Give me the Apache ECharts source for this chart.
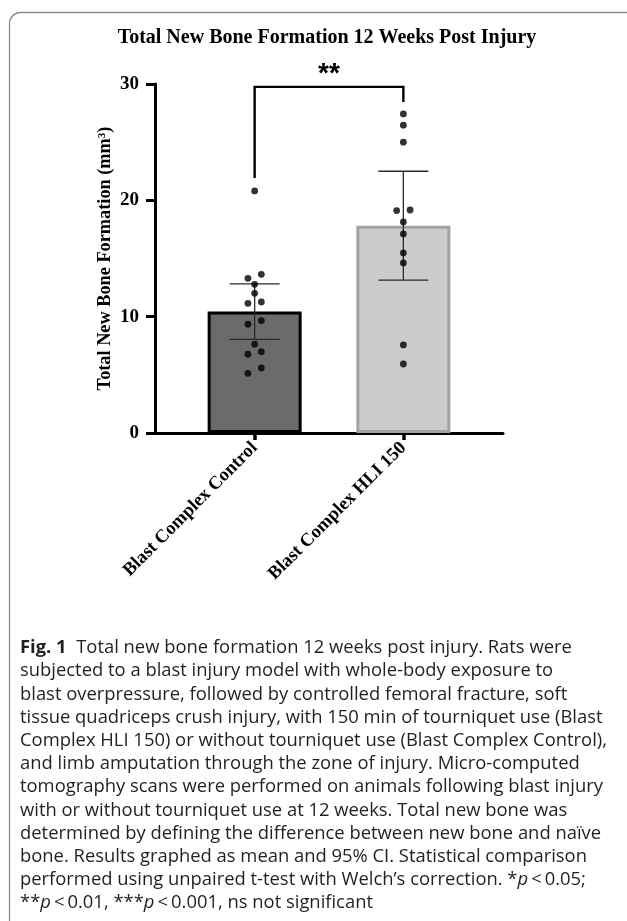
<!DOCTYPE html>
<html>
<head>
<meta charset="utf-8">
<title>Total New Bone Formation 12 Weeks Post Injury</title>
<script src="https://cdn.jsdelivr.net/npm/echarts@6/dist/echarts.min.js"></script>
<style>
  html, body { margin: 0; padding: 0; background: #fff; }
  #chart { width: 627px; height: 921px; }
</style>
</head>
<body>
<div id="chart"></div>
<script>
// ---- data ----------------------------------------------------------------
const categories = ['Blast Complex Control', 'Blast Complex HLI 150'];
// individual animals, total new bone (mm³)
const controlValues = [20.81, 13.64, 13.30, 12.78, 12.01, 11.26, 11.15, 9.66, 9.35, 7.63, 6.99, 6.77, 5.59, 5.13];
const hliValues = [27.43, 26.46, 25.00, 19.17, 19.12, 18.14, 17.11, 15.48, 14.62, 7.57, 5.93];
const yTicks = [0, 10, 20, 30];
const significance = '**';
const titleText = 'Total New Bone Formation 12 Weeks Post Injury';
const yAxisTitle = 'Total New Bone Formation (mm³)';
const captionLines = [
  '{b|Fig. 1}  Total new bone formation 12 weeks post injury. Rats were',
  'subjected to a blast injury model with whole-body exposure to',
  'blast overpressure, followed by controlled femoral fracture, soft',
  'tissue quadriceps crush injury, with 150 min of tourniquet use (Blast',
  'Complex HLI 150) or without tourniquet use (Blast Complex Control),',
  'and limb amputation through the zone of injury. Micro-computed',
  'tomography scans were performed on animals following blast injury',
  'with or without tourniquet use at 12 weeks. Total new bone was',
  'determined by defining the difference between new bone and naïve',
  'bone. Results graphed as mean and 95% CI. Statistical comparison',
  'performed using unpaired t-test with Welch’s correction. *{i|p}\u2009<\u20090.05;',
  '**{i|p}\u2009<\u20090.01, ***{i|p}\u2009<\u20090.001, ns not significant'
];

// ---- summary statistics: mean and 95% CI (two-sided t) -------------------
const T975 = { 10: 2.228, 13: 2.160 };
function summarize(vals) {
  const n = vals.length;
  const mean = vals.reduce((a, b) => a + b, 0) / n;
  const sd = Math.sqrt(vals.reduce((a, v) => a + (v - mean) * (v - mean), 0) / (n - 1));
  const half = T975[n - 1] * sd / Math.sqrt(n);
  return { mean, lo: mean - half, hi: mean + half, max: Math.max(...vals) };
}
const groups = [controlValues, hliValues];
const stats = groups.map(summarize);

// ---- layout ---------------------------------------------------------------
const GRID = { left: 155, right: 124, top: 84, bottom: 488 };
const X_PAD = 0.67;              // space between axis ends and outer bars, in category units
const Y_MAX = 30;
const pxPerUnit = (921 - GRID.top - GRID.bottom) / Y_MAX;
const DOT = 6.8;
const DOT_STEP = 13.4;

// spread dots that would overlap sideways (simple beeswarm by clusters)
function swarm(vals) {
  const order = vals.map((v, i) => i).sort((a, b) => vals[a] - vals[b]);
  const offsets = new Array(vals.length).fill(0);
  let cluster = [order[0]];
  const flush = () => {
    const n = cluster.length;
    cluster.forEach((idx, k) => { offsets[idx] = (k - (n - 1) / 2) * DOT_STEP; });
  };
  for (let k = 1; k < order.length; k++) {
    const gap = (vals[order[k]] - vals[order[k - 1]]) * pxPerUnit;
    if (gap < 5.8) cluster.push(order[k]);
    else { flush(); cluster = [order[k]]; }
  }
  flush();
  return offsets;
}

const dotData = [];
groups.forEach((vals, gi) => {
  const off = swarm(vals);
  vals.forEach((v, i) => dotData.push({ value: [gi, v], symbolOffset: [off[i], 0] }));
});

const barStyles = [
  { color: '#6b6b6b', borderColor: '#000000', borderWidth: 3 },
  { color: '#cccccc', borderColor: '#a3a3a3', borderWidth: 3 }
];

const SERIF = '"Liberation Serif", "Times New Roman", serif';
const SANS = '"Open Sans", "Noto Sans", sans-serif';
const CAPTION_SIZE = 18.4;

const chart = echarts.init(document.getElementById('chart'), null, { renderer: 'canvas' });

const graphics = [
  {
    type: 'rect', silent: true, z: 0,
    shape: { x: 9.5, y: 12.5, width: 700, height: 1000, r: 11 },
    style: { fill: 'none', stroke: '#8d8d8d', lineWidth: 1.3 }
  },
  {
    type: 'text', x: 327, y: 38,
    style: {
      text: titleText, align: 'center', verticalAlign: 'middle',
      font: 'bold 20px ' + SERIF, fill: '#000'
    }
  }
];
captionLines.forEach((line, i) => {
  graphics.push({
    type: 'text', x: 20, y: 648 + i * 23.2,
    style: {
      text: line, verticalAlign: 'middle', fill: '#231f20',
      fontFamily: SANS, fontSize: CAPTION_SIZE,
      rich: {
        b: { fontFamily: SANS, fontSize: CAPTION_SIZE, fontWeight: 'bold', fill: '#231f20' },
        i: { fontFamily: SANS, fontSize: CAPTION_SIZE, fontStyle: 'italic', fill: '#231f20' }
      }
    }
  });
});

chart.setOption({
  animation: false,
  backgroundColor: '#ffffff',
  grid: GRID,
  xAxis: {
    type: 'value',
    min: -X_PAD, max: 1 + X_PAD,
    splitLine: { show: false },
    axisLine: { show: true, onZero: false, lineStyle: { color: '#000', width: 3 } },
    axisTick: { show: true, customValues: [0, 1], length: 7, lineStyle: { color: '#000', width: 3.5 } },
    axisLabel: {
      customValues: [0, 1], rotate: 45, margin: 12,
      formatter: v => categories[Math.round(v)],
      fontFamily: SERIF, fontWeight: 'bold', fontSize: 18.5, color: '#000'
    }
  },
  yAxis: {
    type: 'value', min: 0, max: Y_MAX, interval: 10,
    splitLine: { show: false },
    axisLine: { show: true, onZero: false, lineStyle: { color: '#000', width: 3 } },
    axisTick: { show: true, customValues: yTicks, length: 9, lineStyle: { color: '#000', width: 3 } },
    axisLabel: {
      customValues: yTicks, margin: 16,
      fontFamily: SERIF, fontWeight: 'bold', fontSize: 19, color: '#000'
    },
    name: yAxisTitle, nameLocation: 'middle', nameGap: 41, nameRotate: 90,
    nameMoveOverlap: false,
    nameTextStyle: { fontFamily: SERIF, fontWeight: 'bold', fontSize: 18.3, color: '#000' }
  },
  graphic: graphics,
  series: [
    {
      type: 'bar', z: 2, barWidth: 94,
      data: stats.map((s, i) => ({ value: [i, s.mean], itemStyle: barStyles[i] }))
    },
    {
      // 95% confidence interval whiskers
      type: 'custom', z: 3,
      data: stats.map((s, i) => [i, s.lo, s.hi]),
      encode: { x: 0, y: [1, 2] },
      renderItem(params, api) {
        const x = api.value(0);
        const pLo = api.coord([x, api.value(1)]);
        const pHi = api.coord([x, api.value(2)]);
        const cap = 25;
        const st = { stroke: '#2a2a2a', lineWidth: 1.3 };
        return {
          type: 'group', children: [
            { type: 'line', shape: { x1: pLo[0], y1: pLo[1], x2: pHi[0], y2: pHi[1] }, style: st },
            { type: 'line', shape: { x1: pLo[0] - cap, y1: pLo[1], x2: pLo[0] + cap, y2: pLo[1] }, style: st },
            { type: 'line', shape: { x1: pHi[0] - cap, y1: pHi[1], x2: pHi[0] + cap, y2: pHi[1] }, style: st }
          ]
        };
      }
    },
    {
      type: 'scatter', z: 4, symbol: 'circle', symbolSize: DOT,
      itemStyle: { color: '#000' },
      data: dotData
    },
    {
      // significance bracket between the two groups
      type: 'custom', z: 5, clip: false,
      data: [[0, 1, stats[0].max, stats[1].max]],
      encode: { x: [0, 1], y: [2, 3] },
      renderItem(params, api) {
        const a = api.coord([api.value(0), api.value(2)]);
        const b = api.coord([api.value(1), api.value(3)]);
        const top = Math.min(a[1], b[1]) - 27;
        const st = { stroke: '#000', lineWidth: 2.4, fill: 'none' };
        return {
          type: 'group', children: [
            { type: 'polyline', shape: { points: [[a[0], a[1] - 13], [a[0], top], [b[0], top], [b[0], b[1] - 12]] }, style: st },
            {
              type: 'text', x: (a[0] + b[0]) / 2, y: top - 13,
              style: { text: significance, align: 'center', verticalAlign: 'middle', font: 'bold 28px "Liberation Sans", Arial, sans-serif', fill: '#000' }
            }
          ]
        };
      }
    }
  ]
});
</script>
</body>
</html>
